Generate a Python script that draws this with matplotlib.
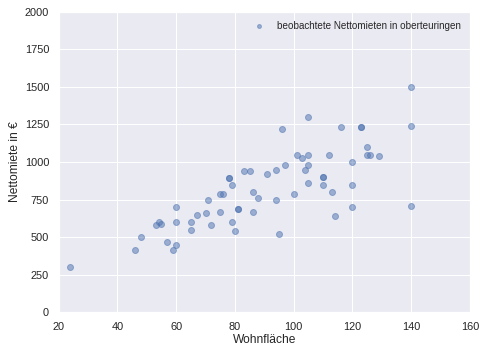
import matplotlib
matplotlib.use("Agg")
import matplotlib.pyplot as plt
import seaborn as sns

wohnflaeche = [24, 46, 48, 53, 54, 55, 57, 59, 60, 60, 60, 65, 65, 67, 70, 71, 72,
               75, 75, 76, 78, 78, 79, 79, 80, 81, 81, 83, 85, 86, 86, 88, 91, 94, 94,
               95, 96, 97, 100, 101, 103, 104, 105, 105, 105, 105, 110, 110, 110, 112,
               113, 114, 116, 120, 120, 120, 123, 123, 125, 125, 126, 129, 140, 140, 140]
nettomiete = [305, 415, 500, 580, 600, 590, 470, 415, 700, 600, 450, 600, 550, 650, 660, 750, 580,
              665, 790, 790, 895, 895, 850, 600, 540, 690, 690, 940, 940, 800, 665, 760, 920, 750, 950,
              520, 1220, 980, 790, 1050, 1030, 950, 980, 1050, 860, 1300, 900, 900, 850, 1050,
              800, 640, 1230, 1000, 850, 700, 1230, 1230, 1100, 1050, 1050, 1040, 1500, 1240, 710]

sns.set_theme(style="darkgrid")
plt.rcParams['font.family'] = ['Liberation Sans', 'DejaVu Sans']

fig = plt.figure(figsize=(481/72, 353/72), dpi=72)
ax = fig.add_axes([0.122, 0.115, 0.855, 0.852])
ax.scatter(wohnflaeche, nettomiete, alpha=0.5, s=36,
           label="beobachtete Nettomieten in oberteuringen")
ax.set_xlim(20, 160)
ax.set_ylim(0, 2000)
ax.set_xticks([20, 40, 60, 80, 100, 120, 140, 160])
ax.set_yticks([0, 250, 500, 750, 1000, 1250, 1500, 1750, 2000])
ax.set_xlabel("Wohnfläche", labelpad=2)
ax.set_ylabel("Nettomiete in €")
ax.legend(loc="upper right", frameon=False, fontsize=9.85, markerscale=0.65)
fig.savefig("out.png", dpi=72)
